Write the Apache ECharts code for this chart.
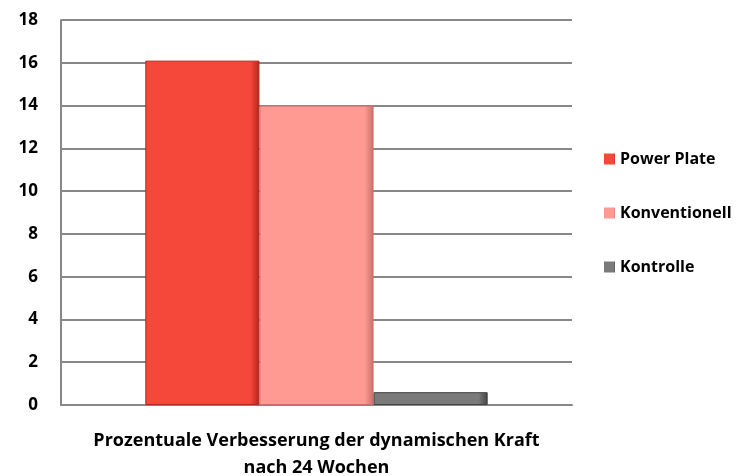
<!DOCTYPE html>
<html lang="de">
<head>
    <meta charset="UTF-8">
    <title>Dynamische Kraft</title>
    <script src="https://cdn.jsdelivr.net/npm/echarts@6/dist/echarts.min.js"></script>
</head>
<body style="margin:0;background:#fff">
<div id="dom" style="width: 739px;height: 476px"></div>
<script>
    var categories = ['Prozentuale Verbesserung der dynamischen Kraft\nnach 24 Wochen'];
    var seriesNames = ['Power Plate', 'Konventionell', 'Kontrolle'];
    var powerPlate = [16.1];
    var konventionell = [14.0];
    var kontrolle = [0.6];

    var colors = ['#f5473a', '#ff9a93', '#7a7a7a'];
    var borders = ['#b3261c', '#c97068', '#444444'];
    var values = [powerPlate, konventionell, kontrolle];

    var dom = document.getElementById("dom");
    var myCharts = echarts.init(dom);
    var font = '"Open Sans", "Noto Sans", sans-serif';

    var series = seriesNames.map(function (name, i) {
        return {
            name: name,
            type: 'bar',
            data: values[i],
            barGap: '0%',
            barCategoryGap: '33%',
            itemStyle: {
                color: new echarts.graphic.LinearGradient(0, 0, 1, 0, [
                    {offset: 0, color: colors[i]},
                    {offset: 0.92, color: colors[i]},
                    {offset: 1, color: borders[i]}
                ]),
                borderColor: borders[i],
                borderWidth: 1
            }
        };
    });

    var option = {
        animation: false,
        grid: {left: 61, right: 167, top: 20, bottom: 71, outerBoundsMode: 'none', containLabel: false},
        legend: {
            orient: 'vertical',
            left: 599,
            top: 146,
            itemGap: 38,
            itemWidth: 11,
            itemHeight: 11,
            icon: 'rect',
            itemStyle: {borderWidth: 0},
            data: seriesNames,
            textStyle: {fontFamily: font, fontWeight: 'bold', fontSize: 16, color: '#000'}
        },
        xAxis: {
            type: 'category',
            data: categories,
            axisTick: {show: false},
            axisLine: {lineStyle: {color: '#888', width: 2}},
            axisLabel: {
                fontFamily: font, fontWeight: 'bold', fontSize: 18, color: '#000',
                lineHeight: 27, margin: 22
            }
        },
        yAxis: {
            type: 'value',
            min: 0,
            max: 18,
            interval: 2,
            axisLine: {show: true, lineStyle: {color: '#888', width: 2}},
            axisTick: {show: false},
            splitLine: {lineStyle: {color: '#888', width: 2}},
            axisLabel: {fontFamily: font, fontWeight: 'bold', fontSize: 17, color: '#000', margin: 23}
        },
        series: series
    };
    myCharts.setOption(option);
</script>
</body>
</html>
